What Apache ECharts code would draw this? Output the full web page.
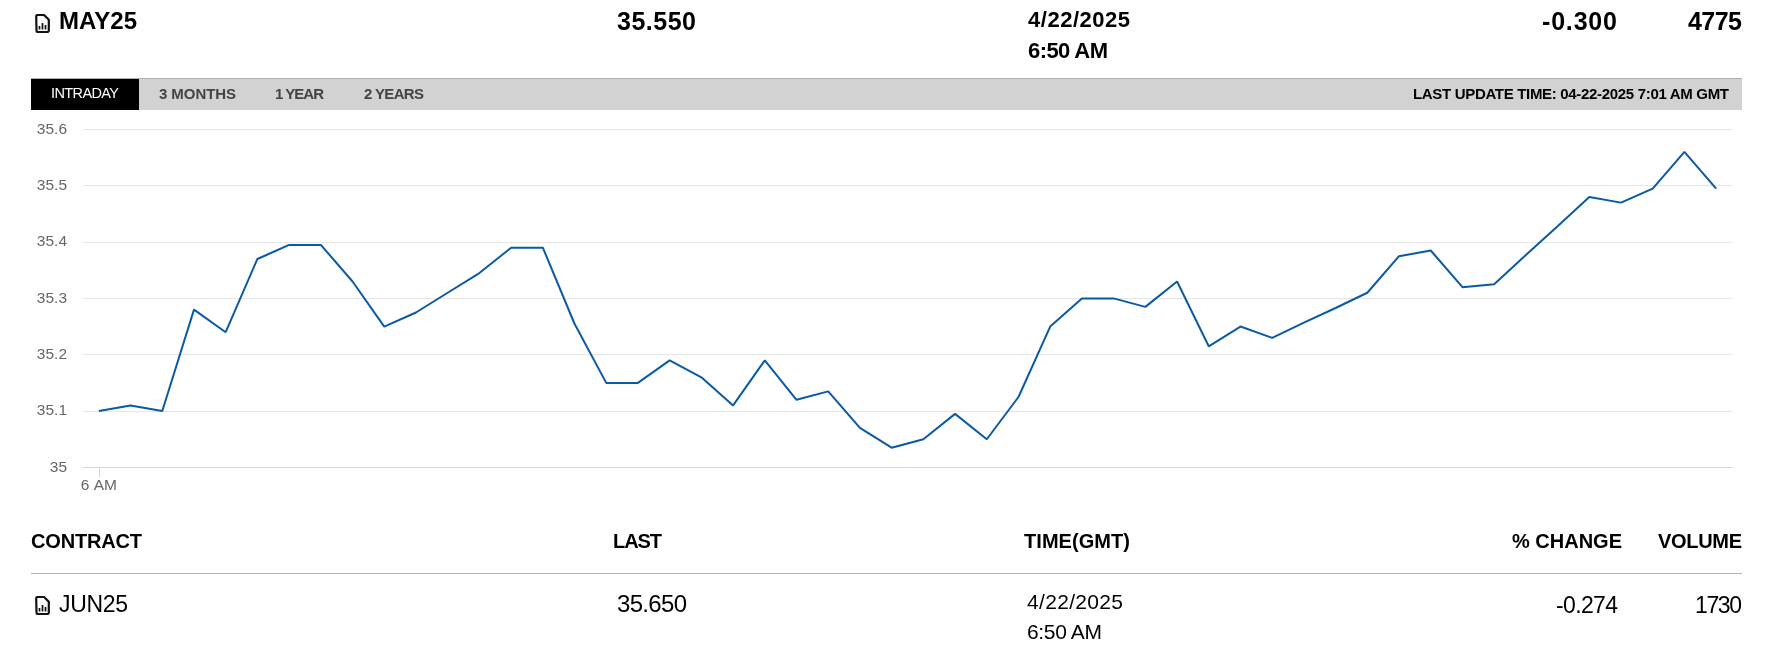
<!DOCTYPE html>
<html><head><meta charset="utf-8">
<style>
html,body{margin:0;padding:0;background:#fff;width:1789px;height:646px;overflow:hidden;font-family:"Liberation Sans",Arial,sans-serif}
#chart{position:absolute;left:0;top:0;width:1789px;height:646px}
.box{position:absolute}
.t{position:absolute;white-space:nowrap}
svg.ic{position:absolute}
</style>
<script src="https://cdn.jsdelivr.net/npm/echarts@6/dist/echarts.min.js"></script>
</head><body>
<div class="box" style="left:31px;top:78px;width:1711px;height:32px;background:#d2d2d2;border-top:1px solid #b0b0b0;box-sizing:border-box"></div>
<div class="box" style="left:31px;top:79px;width:108px;height:31px;background:#000"></div>
<div class="box" style="left:31px;top:573px;width:1711px;height:1px;background:#b4b4b4"></div>
<div id="chart"></div>
<svg class="ic" style="left:35px;top:14px" width="15" height="19" viewBox="0 0 15 19"><path d="M1.2 2.5 a1.5 1.5 0 0 1 1.5-1.5 h6.3 l4.8 4.8 v10.7 a1.5 1.5 0 0 1-1.5 1.5 h-9.3 a1.5 1.5 0 0 1-1.5-1.5z" fill="none" stroke="#111" stroke-width="2.2"/><path d="M4.5 15.5v-3.5M7.5 15.5v-6.5M10.5 15.5v-4.5" stroke="#111" stroke-width="1.7"/></svg>
<svg class="ic" style="left:35px;top:596px" width="15" height="19" viewBox="0 0 15 19"><path d="M1.2 2.5 a1.5 1.5 0 0 1 1.5-1.5 h6.3 l4.8 4.8 v10.7 a1.5 1.5 0 0 1-1.5 1.5 h-9.3 a1.5 1.5 0 0 1-1.5-1.5z" fill="none" stroke="#111" stroke-width="2.2"/><path d="M4.5 15.5v-3.5M7.5 15.5v-6.5M10.5 15.5v-4.5" stroke="#111" stroke-width="1.7"/></svg>
<script>
// Chart data
const timeLabels = ['6 AM'];
const prices = [35.10,35.11,35.10,35.28,35.24,35.37,35.395,35.395,35.33,35.25,35.275,35.31,35.345,35.39,35.39,35.255,35.15,35.15,35.19,35.16,35.11,35.19,35.12,35.135,35.07,35.035,35.05,35.095,35.05,35.125,35.25,35.30,35.30,35.285,35.33,35.215,35.25,35.23,35.257,35.283,35.31,35.375,35.385,35.32,35.325,35.377,35.428,35.48,35.47,35.495,35.56,35.495];
const categories = prices.map((_, i) => timeLabels[i] || '');

// Page texts: text, left, right, centre y, size, weight, colour
const pageTexts = [
 ['MAY25',59,137,21,24,700,'#000'],
 ['35.550',617,696,21.5,25,700,'#000'],
 ['4/22/2025',1028,1130,20,22,700,'#000'],
 ['6:50 AM',1028,1108,50.5,22,700,'#000'],
 ['-0.300',1542,1617,21.5,25,700,'#000'],
 ['4775',1688,1742,21.5,25,700,'#000'],
 ['INTRADAY',51,119,93.5,14.5,400,'#fff'],
 ['3 MONTHS',159,236,93.5,15,700,'#444'],
 ['1 YEAR',275,324,93.5,15,700,'#444'],
 ['2 YEARS',364,424,93.5,15,700,'#444'],
 ['LAST UPDATE TIME: 04-22-2025 7:01 AM GMT',1413,1729,93.5,15,700,'#000'],
 ['CONTRACT',31,142,541,20,700,'#000'],
 ['LAST',613,662,541,20,700,'#000'],
 ['TIME(GMT)',1024,1130,541,20,700,'#000'],
 ['% CHANGE',1512,1622,541,20,700,'#000'],
 ['VOLUME',1658,1742,541,20,700,'#000'],
 ['JUN25',59,128,604,23,400,'#000'],
 ['35.650',617,687,604,24,400,'#000'],
 ['4/22/2025',1027,1123,601.5,21,400,'#000'],
 ['6:50 AM',1027,1102,631.5,21,400,'#000'],
 ['-0.274',1556,1618,605,23,400,'#000'],
 ['1730',1695,1742,605,23,400,'#000']
];
pageTexts.forEach(([s,x0,x1,cy,size,w,c])=>{
  const e=document.createElement('span');e.className='t';e.textContent=s;
  e.style.cssText=`left:${x0}px;top:${cy-size/2}px;font-size:${size}px;line-height:${size}px;font-weight:${w};color:${c}`;
  document.body.appendChild(e);
  const m=e.getBoundingClientRect().width;
  e.style.letterSpacing=((x1-x0-m)/(s.length-1)).toFixed(3)+'px';
});

const chart=echarts.init(document.getElementById('chart'),null,{renderer:'canvas'});
chart.setOption({
  animation:false,
  backgroundColor:'transparent',
  grid:{left:83,right:57,top:129.4,height:338,containLabel:false},
  xAxis:{type:'category',data:categories,boundaryGap:true,
    axisLine:{show:true,lineStyle:{color:'#ccd6eb',width:1}},
    axisTick:{show:true,alignWithLabel:true,length:10,interval:(i)=>i===0,lineStyle:{color:'#ccd6eb'}},
    axisLabel:{show:true,interval:(i)=>i===0,margin:10,color:'#666',fontSize:15.5,fontFamily:'Liberation Sans'},
    splitLine:{show:false}},
  yAxis:{type:'value',min:35,max:35.6,interval:0.1,
    axisLine:{show:false},axisTick:{show:false},
    axisLabel:{margin:16,color:'#666',fontSize:15.5,fontFamily:'Liberation Sans',padding:[0,0,2,0]},
    splitLine:{show:true,lineStyle:{color:'#e6e6e6',width:1}}},
  series:[{type:'line',data:prices,symbol:'none',smooth:false,lineStyle:{color:'#0b5aa6',width:2}}]
});
</script>
</body></html>
